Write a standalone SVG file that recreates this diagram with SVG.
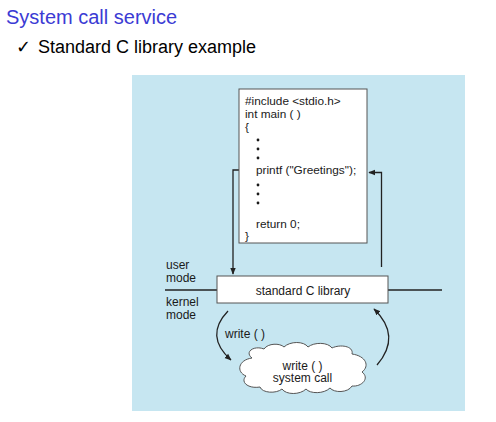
<svg xmlns="http://www.w3.org/2000/svg" width="496" height="422" viewBox="0 0 496 422">
<defs>
<style>
.t{font-family:"Liberation Sans",Arial,sans-serif;fill:#1a1a1a}
.code{font-size:11.8px}
.ln{stroke:#222;stroke-width:1.3;fill:none}
.box{fill:#fff;stroke:#555;stroke-width:1}
</style>
<marker id="ah" viewBox="0 0 10 10" refX="9" refY="5" markerWidth="7" markerHeight="7" orient="auto" markerUnits="userSpaceOnUse">
<path d="M0,1 L10,5 L0,9 Z" fill="#222"/>
</marker>
</defs>
<rect width="496" height="422" fill="#fff"/>
<text x="6" y="24" font-family="Liberation Sans,Arial,sans-serif" font-size="20" fill="#3b3bd4">System call service</text>
<text x="16" y="53" font-family="Liberation Sans,Arial,sans-serif" font-size="18" fill="#000"><tspan font-family="DejaVu Sans,sans-serif" font-size="18" font-weight="bold">✓</tspan><tspan x="38">Standard C library example</tspan></text>
<rect id="panel" x="132" y="75" width="333" height="336" fill="#c6e6f1"/>
<g id="connectors">
<line class="ln" x1="165" y1="290" x2="442" y2="290"/>
<path class="ln" d="M244,170 L233,170 L233,274" marker-end="url(#ah)"/>
<path class="ln" d="M381.5,267 L381.5,172.5 L369,172.5" marker-end="url(#ah)"/>
<path class="ln" d="M228,311 Q204,336 231,360" marker-end="url(#ah)"/>
<path class="ln" d="M377,365 Q402,336 374,309" marker-end="url(#ah)"/>
</g>
<g id="code">
<rect class="box" x="239" y="89" width="128" height="154"/>
<g class="t code">
<text x="245" y="105">#include &lt;stdio.h&gt;</text>
<text x="245" y="118">int main ( )</text>
<text x="245" y="131">{</text>
<text x="256" y="174">printf ("Greetings");</text>
<text x="256" y="228">return 0;</text>
<text x="245" y="240">}</text>
</g>
<g fill="#1a1a1a">
<circle cx="258" cy="140" r="1.4"/><circle cx="258" cy="149" r="1.4"/><circle cx="258" cy="158" r="1.4"/>
<circle cx="258" cy="185" r="1.4"/><circle cx="258" cy="194" r="1.4"/><circle cx="258" cy="203" r="1.4"/>
</g>
</g>
<g id="stdlib">
<rect class="box" x="217" y="276" width="171" height="27"/>
<text class="t" x="303" y="294.5" font-size="12" text-anchor="middle">standard C library</text>
</g>
<g id="modes" class="t" font-size="12">
<text x="166" y="269">user</text>
<text x="166" y="281.5">mode</text>
<text x="166" y="306">kernel</text>
<text x="166" y="318.5">mode</text>
</g>
<text class="t" x="225" y="338" font-size="12">write ( )</text>
<g id="syscall">
<path d="M252,358 C244,352 254,345 264,349 C268,343 280,343 284,347 C290,341 304,341 308,347 C314,342 328,342 332,348 C340,344 354,346 352,354 C366,356 370,366 362,372 C370,378 362,387 352,386 C348,393 334,393 330,388 C324,394 310,394 306,389 C300,395 286,395 282,389 C276,394 262,393 260,387 C248,389 240,382 246,376 C236,372 238,360 252,358 Z" fill="#fff" stroke="#555" stroke-width="1"/>
<text class="t" x="302.5" y="369.5" font-size="12" text-anchor="middle">write ( )</text>
<text class="t" x="302.5" y="382" font-size="12" text-anchor="middle">system call</text>
</g>
</svg>
